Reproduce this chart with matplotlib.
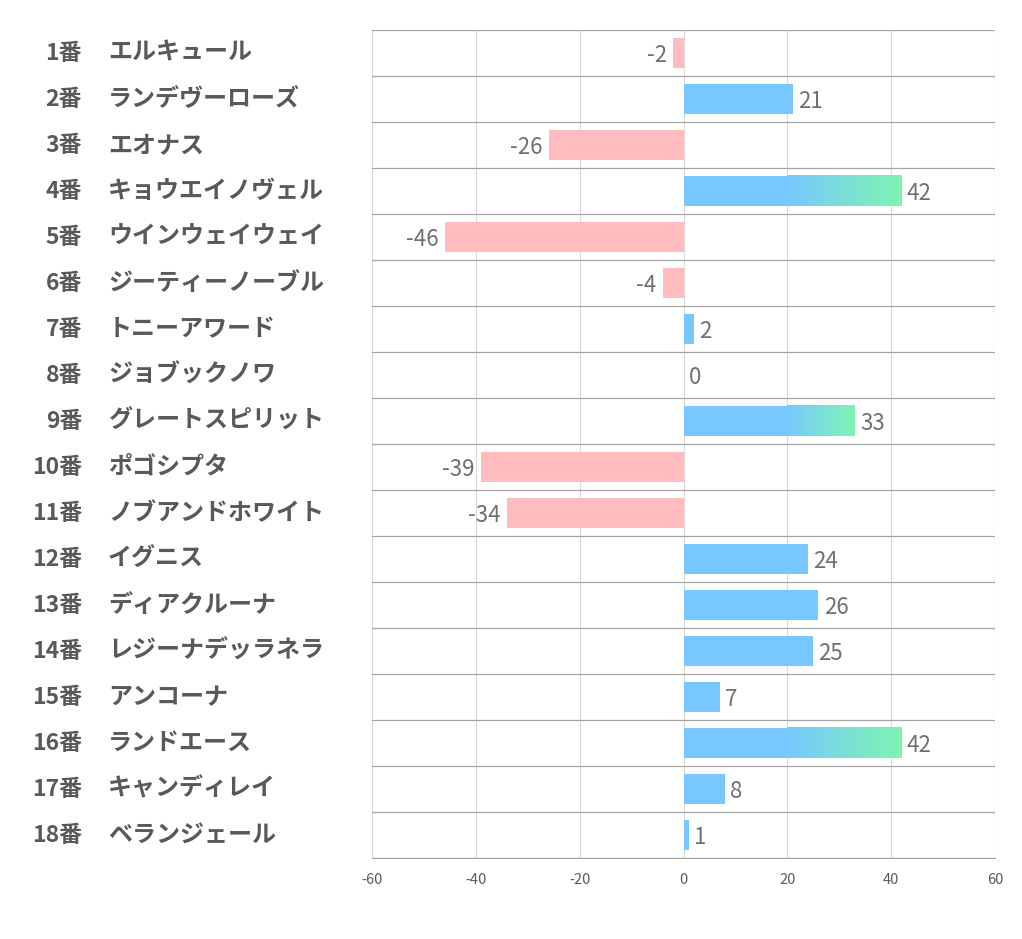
import matplotlib
matplotlib.use("Agg")
import matplotlib.pyplot as plt
import numpy as np
from matplotlib.colors import LinearSegmentedColormap

plt.rcParams["font.family"] = ["Noto Sans CJK JP", "DejaVu Sans"]

NUMBERS = [f"{i}番" for i in range(1, 19)]
NAMES = [
    "エルキュール", "ランデヴーローズ", "エオナス", "キョウエイノヴェル",
    "ウインウェイウェイ", "ジーティーノーブル", "トニーアワード", "ジョブックノワ",
    "グレートスピリット", "ポゴシプタ", "ノブアンドホワイト", "イグニス",
    "ディアクルーナ", "レジーナデッラネラ", "アンコーナ", "ランドエース",
    "キャンディレイ", "ベランジェール",
]
VALUES = [-2, 21, -26, 42, -46, -4, 2, 0, 33, -39, -34, 24, 26, 25, 7, 42, 8, 1]
XTICKS = [-60, -40, -20, 0, 20, 40, 60]

C_POS = "#78C8FF"
C_NEG = "#FFBBBD"
C_GREEN = "#7DF5B2"
GRAD_START = 20
GRAD_MIN = 30  # only bars above this get the green fade

fig = plt.figure(figsize=(10.22, 9.39), dpi=100)
ax = fig.add_axes([372 / 1022, 1 - 858 / 939, (995 - 372) / 1022, (858 - 30) / 939])

n = len(VALUES)
y = np.arange(n)
h = 0.66
cmap = LinearSegmentedColormap.from_list("bg", [C_POS, C_GREEN])

for yi, v in zip(y, VALUES):
    if v < 0:
        ax.barh(yi, v, height=h, color=C_NEG, zorder=2)
        ax.text(v - 1.2, yi + 0.05, str(v), ha="right", va="center",
                fontsize=16, color="#707070", zorder=4)
    else:
        if v > GRAD_MIN:
            ax.barh(yi, GRAD_START + 0.3, height=h, color=C_POS, zorder=2, linewidth=0)
            grad = np.linspace(0, 1, 256).reshape(1, -1)
            ax.imshow(grad, cmap=cmap, aspect="auto", zorder=2,
                      extent=[GRAD_START, v, yi + h / 2, yi - h / 2],
                      interpolation="bilinear")
        elif v > 0:
            ax.barh(yi, v, height=h, color=C_POS, zorder=2)
        ax.text(v + 1.0, yi + 0.05, str(v), ha="left", va="center",
                fontsize=16, color="#707070", zorder=4)

ax.set_xlim(-60, 60)
ax.set_ylim(n - 0.5, -0.5)
ax.set_xticks(XTICKS)
ax.set_xticklabels([str(t) for t in XTICKS], fontsize=10.5, color="#595959")
ax.set_yticks([])
ax.tick_params(axis="x", length=0, pad=11)

# grid lines
for t in XTICKS:
    ax.axvline(t, color="#D9D9D9", linewidth=0.8, zorder=1)
for b in np.arange(-0.5, n, 1.0):
    ax.axhline(b, color="#A6A6A6", linewidth=0.9, zorder=3)

for s in ["top", "right"]:
    ax.spines[s].set_visible(False)
ax.spines["bottom"].set_color("#A6A6A6")
ax.spines["left"].set_color("#D9D9D9")
ax.spines["left"].set_linewidth(0.8)

# left labels
for yi, num, name in zip(y, NUMBERS, NAMES):
    px_y = 30 + (yi + 0.5) * (858 - 30) / n
    fy = 1 - px_y / 939
    fig.text(82 / 1022, fy, num, ha="right", va="center",
             fontsize=16.5, fontweight="bold", color="#595959")
    fig.text(108 / 1022, fy, name, ha="left", va="center",
             fontsize=17.3, fontweight="bold", color="#595959")

fig.savefig("out.png", dpi=100, facecolor="white")
